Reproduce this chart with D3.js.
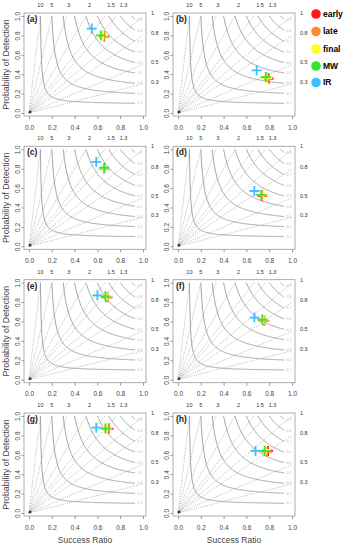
<!DOCTYPE html>
<html>
<head>
<meta charset="utf-8">
<script src="https://cdn.jsdelivr.net/npm/d3@7"></script>
<style>
  body { margin: 0; background: #fff; }
  svg { font-family: "Liberation Sans", Arial, sans-serif; }
  .tick text { fill: #444; }
</style>
</head>
<body>
<div class="chart"></div>
<script>
// Panels and groups
const panelLabels = ['(a)', '(b)', '(c)', '(d)', '(e)', '(f)', '(g)', '(h)'];
const groups = ['early', 'late', 'final', 'MW', 'IR'];
const groupColors = ['#ff1a1a', '#ff8a33', '#ffff26', '#33e633', '#40bfff'];

// Success ratio / POD per group, one value per panel (a..h)
const earlySR  = [0.66, 0.79, 0.66, 0.74, 0.68, 0.75, 0.70, 0.79];
const earlyPOD = [0.79, 0.36, 0.80, 0.52, 0.85, 0.61, 0.87, 0.64];
const lateSR   = [0.66, 0.80, 0.66, 0.74, 0.69, 0.76, 0.70, 0.78];
const latePOD  = [0.785, 0.35, 0.80, 0.53, 0.85, 0.61, 0.865, 0.63];
const finalSR  = [0.65, 0.78, 0.66, 0.75, 0.68, 0.75, 0.68, 0.77];
const finalPOD = [0.80, 0.36, 0.80, 0.53, 0.86, 0.62, 0.87, 0.65];
const mwSR     = [0.63, 0.77, 0.66, 0.73, 0.67, 0.74, 0.67, 0.76];
const mwPOD    = [0.80, 0.37, 0.81, 0.53, 0.86, 0.62, 0.87, 0.64];
const irSR     = [0.55, 0.69, 0.59, 0.67, 0.60, 0.67, 0.59, 0.68];
const irPOD    = [0.87, 0.44, 0.87, 0.57, 0.87, 0.64, 0.88, 0.64];

// Background lines
const csiLevels = [0.1, 0.2, 0.3, 0.4, 0.5, 0.6, 0.7, 0.8, 0.9];
const biasLevels = [0.3, 0.5, 0.8, 1, 1.3, 1.5, 2, 3, 5, 10];
const biasTopLabels = ['10', '5', '3', '2', '1.5', '1.3'];
const biasTopPos = [0.1, 0.2, 0.35, 0.53, 0.72, 0.83];
const biasRightLabels = ['1', '0.8', '0.5', '0.3'];
const biasRightPos = [1.03, 0.82, 0.52, 0.32];
const axisTicks = [0, 0.2, 0.4, 0.6, 0.8, 1.0];

const srSeries = [earlySR, lateSR, finalSR, mwSR, irSR];
const podSeries = [earlyPOD, latePOD, finalPOD, mwPOD, irPOD];

const W = 346, H = 550;
const svg = d3.select('.chart').append('svg')
    .attr('width', W)
    .attr('height', H);

const frameW = 122, frameH = 103;
const colLeft = [24, 173];
const rowTop = [13, 146.3, 279.7, 413];

const csiPod = (c, sr) => 1 / (1 / c - 1 / sr + 1);

panelLabels.forEach((lab, i) => {
    const left = colLeft[i % 2];
    const top = rowTop[Math.floor(i / 2)];

    const x = d3.scaleLinear().domain([0, 1]).range([left + 5, left + frameW - 3]);
    const y = d3.scaleLinear().domain([0, 1]).range([top + frameH - 3, top + 3]);

    const g = svg.append('g').attr('class', 'panel');

    // bias lines (dotted)
    biasLevels.forEach(b => {
        const end = b >= 1 ? [1 / b, 1] : [1, b];
        g.append('line')
            .attr('x1', x(0)).attr('y1', y(0))
            .attr('x2', x(end[0])).attr('y2', y(end[1]))
            .attr('stroke', '#9a9a9a')
            .attr('stroke-width', 0.7)
            .attr('stroke-dasharray', '1,1.3');
    });

    // CSI curves (solid)
    const line = d3.line().x(d => x(d[0])).y(d => y(d[1]));
    csiLevels.forEach(c => {
        const pts = d3.range(c, 0.93, 0.005).concat([0.93]).map(s => [s, csiPod(c, s)]);
        g.append('path')
            .attr('d', line(pts))
            .attr('fill', 'none')
            .attr('stroke', '#959595')
            .attr('stroke-width', 0.85);
        g.append('text')
            .attr('x', x(0.95))
            .attr('y', y(csiPod(c, 0.93)))
            .attr('dy', '0.35em')
            .style('font-size', '3.5px')
            .style('fill', '#bbb')
            .text(c.toFixed(1));
    });

    // origin mark
    g.append('path')
        .attr('d', d3.symbol(d3.symbolCross, 6)())
        .attr('transform', `translate(${x(0) + 1},${y(0) - 1}) rotate(45)`)
        .attr('fill', '#333');

    // frame
    g.append('rect')
        .attr('x', left).attr('y', top)
        .attr('width', frameW).attr('height', frameH)
        .attr('fill', 'none')
        .attr('stroke', '#999')
        .attr('stroke-width', 0.8);

    // axes
    const xAxis = d3.axisBottom(x).tickValues(axisTicks).tickFormat(d3.format('.1f'))
        .tickSize(3).tickPadding(6);
    const xg = g.append('g')
        .attr('transform', `translate(0,${top + frameH})`)
        .call(xAxis);
    xg.select('.domain').remove();
    xg.selectAll('line').attr('stroke', '#999');
    xg.selectAll('text').style('font-size', '6.5px').attr('font-family', null);

    const yAxis = d3.axisLeft(y).tickValues(axisTicks).tickFormat(d3.format('.1f'))
        .tickSize(2.5);
    const yg = g.append('g')
        .attr('transform', `translate(${left},0)`)
        .call(yAxis);
    yg.select('.domain').remove();
    yg.selectAll('line').attr('stroke', '#999');
    yg.selectAll('text')
        .attr('transform', 'rotate(-90)')
        .attr('x', 0).attr('y', -4).attr('dy', null)
        .style('text-anchor', 'middle')
        .style('font-size', '6.5px')
        .attr('font-family', null);

    // bias labels
    biasTopLabels.forEach((t, k) => {
        g.append('text')
            .attr('x', x(biasTopPos[k]))
            .attr('y', top - 6)
            .attr('text-anchor', 'middle')
            .style('font-size', '5.5px')
            .style('fill', '#333')
            .text(t);
    });
    biasRightLabels.forEach((t, k) => {
        g.append('text')
            .attr('x', left + frameW + 5)
            .attr('y', y(biasRightPos[k]))
            .attr('dy', '0.35em')
            .style('font-size', '5.5px')
            .style('fill', '#333')
            .text(t);
    });

    // panel label
    g.append('text')
        .attr('x', left + 3)
        .attr('y', top + 9)
        .style('font-size', '8.5px')
        .style('font-weight', 'bold')
        .style('fill', '#222')
        .text(lab);

    // points as crosses
    groups.forEach((grp, k) => {
        const px = x(srSeries[k][i]);
        const py = y(podSeries[k][i]);
        g.append('path')
            .attr('d', `M${px - 5},${py}H${px + 5}M${px},${py - 5}V${py + 5}`)
            .attr('stroke', groupColors[k])
            .attr('stroke-width', 1.8)
            .attr('fill', 'none');
    });

    // axis titles
    if (i % 2 === 0) {
        g.append('text')
            .attr('transform', `translate(9,${top + frameH / 2}) rotate(-90)`)
            .attr('text-anchor', 'middle')
            .style('font-size', '8.8px')
            .style('fill', '#444')
            .text('Probability of Detection');
    }
    if (i >= 6) {
        g.append('text')
            .attr('x', left + frameW / 2)
            .attr('y', top + frameH + 27)
            .attr('text-anchor', 'middle')
            .style('font-size', '8.5px')
            .style('fill', '#444')
            .text('Success Ratio');
    }
});

// legend
const legendY = [14, 31.5, 49, 66, 82.5];
const legend = svg.append('g').attr('class', 'legend');
groups.forEach((grp, k) => {
    legend.append('circle')
        .attr('cx', 316).attr('cy', legendY[k]).attr('r', 4.8)
        .attr('fill', groupColors[k]);
    legend.append('text')
        .attr('x', 323).attr('y', legendY[k])
        .attr('dy', '0.35em')
        .style('font-size', '8.5px')
        .style('font-weight', 'bold')
        .text(grp);
});
</script>
</body>
</html>
